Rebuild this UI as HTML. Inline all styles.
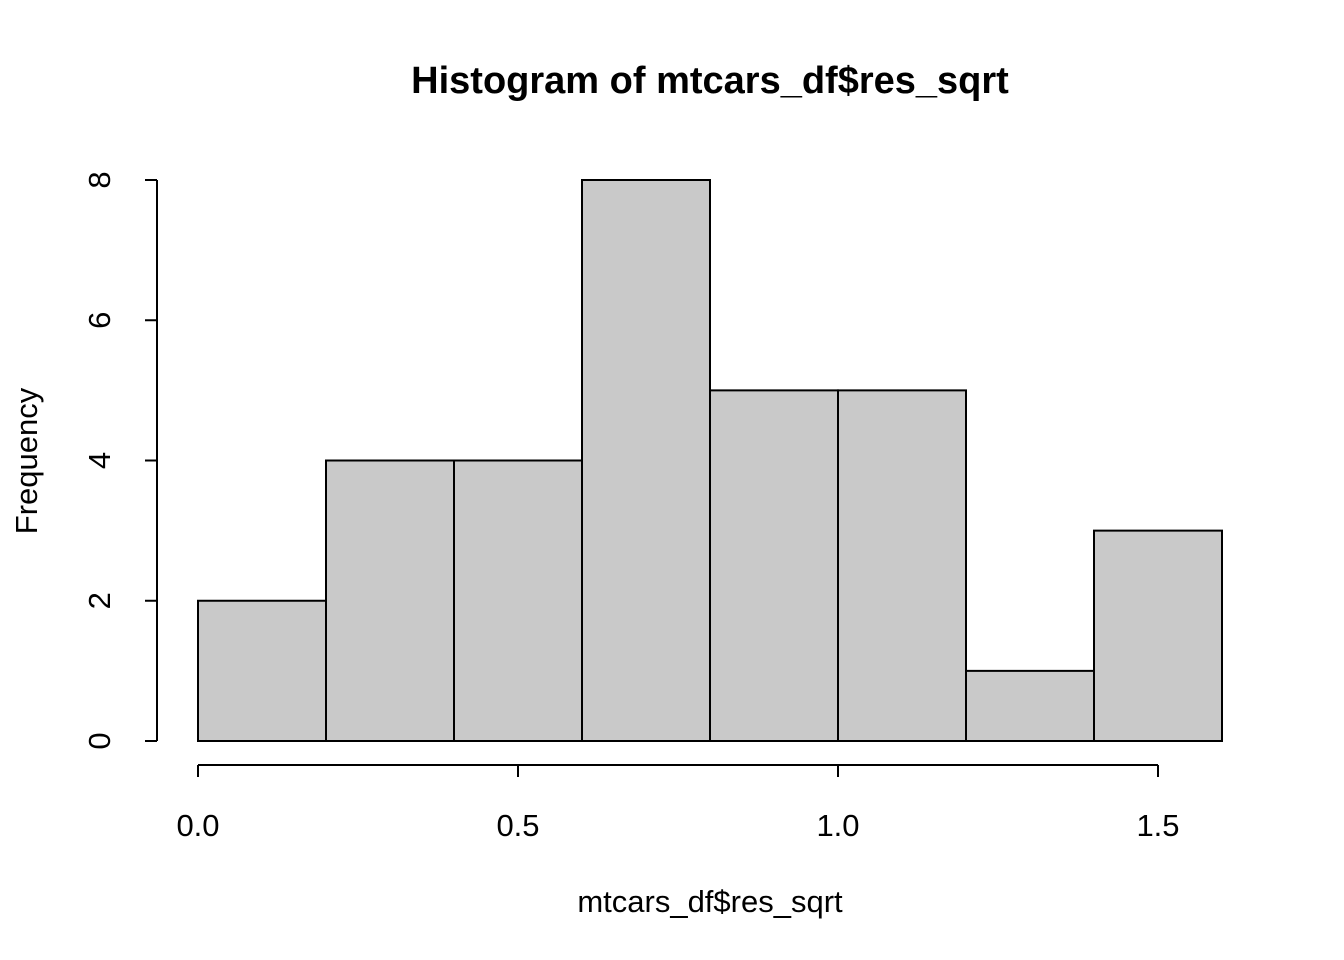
<!DOCTYPE html>
<html><head><meta charset="utf-8"><style>
body{margin:0;background:#fff;}
svg{display:block;font-family:"Liberation Sans",Arial,sans-serif;}
</style></head><body>
<svg id="chart" width="1344" height="960">
<text x="710" y="93" text-anchor="middle" font-size="38" font-weight="bold">Histogram of mtcars_df$res_sqrt</text>
<text x="710" y="912" text-anchor="middle" font-size="31">mtcars_df$res_sqrt</text>
<text transform="translate(37,461) rotate(-90)" text-anchor="middle" font-size="31">Frequency</text>
<g id="bars"></g><g id="xaxis"></g><g id="yaxis"></g>
</svg>
<script>
const breaks=[0,0.2,0.4,0.6,0.8,1.0,1.2,1.4,1.6];
const counts=[2,4,4,8,5,5,1,3];
const xTicks=[0,0.5,1.0,1.5];
const xTickLabels=["0.0","0.5","1.0","1.5"];
const yTicks=[0,2,4,6,8];
const yTickLabels=["0","2","4","6","8"];
const NS="http://www.w3.org/2000/svg";
const sx=v=>198+v*640;
const sy=v=>741-v*70.125;
function mk(t,a,p){const e=document.createElementNS(NS,t);for(const k in a)e.setAttribute(k,a[k]);p.appendChild(e);return e;}
const bars=document.getElementById('bars');
counts.forEach((c,i)=>{
 const r=mk('rect',{x:sx(breaks[i]),y:sy(c),width:sx(breaks[i+1])-sx(breaks[i]),height:sy(0)-sy(c),fill:'#c9c9c9',stroke:'#000','stroke-width':2},bars);
 
 
});
const xa=document.getElementById('xaxis');


mk('line',{x1:sx(xTicks[0]),x2:sx(xTicks[xTicks.length-1]),y1:765,y2:765,stroke:'#000','stroke-width':2},xa);
xTicks.forEach((t,i)=>{
 mk('line',{x1:sx(t),x2:sx(t),y1:765,y2:777,stroke:'#000','stroke-width':2},xa);
 const tx=mk('text',{x:sx(t),y:836,'text-anchor':'middle','font-size':31},xa);
 tx.textContent=xTickLabels[i];
 
 
});
const ya=document.getElementById('yaxis');


mk('line',{x1:157,x2:157,y1:sy(yTicks[0]),y2:sy(yTicks[yTicks.length-1]),stroke:'#000','stroke-width':2},ya);
yTicks.forEach((t,i)=>{
 mk('line',{x1:145,x2:157,y1:sy(t),y2:sy(t),stroke:'#000','stroke-width':2},ya);
 const tx=mk('text',{transform:`translate(110,${sy(t)}) rotate(-90)`,'text-anchor':'middle','font-size':31},ya);
 tx.textContent=yTickLabels[i];
 
 
});
</script>
</body></html>
